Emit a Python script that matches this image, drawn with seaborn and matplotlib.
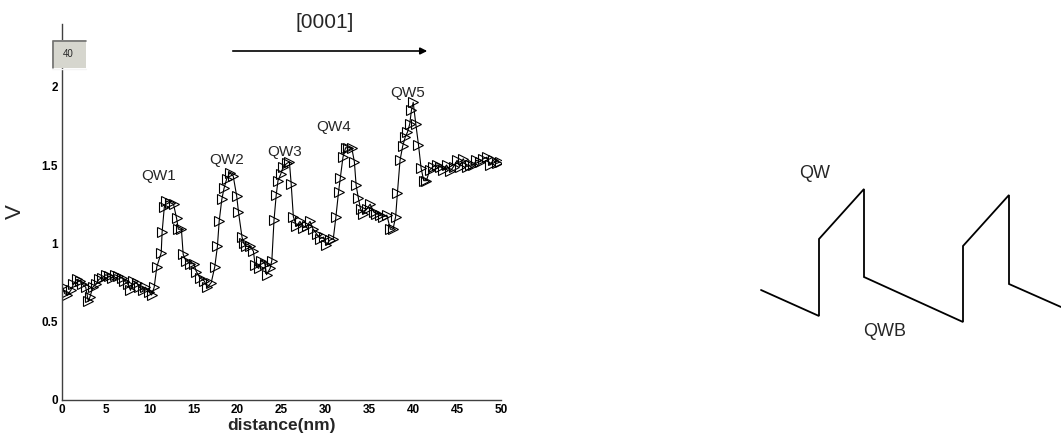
import matplotlib
matplotlib.use('Agg')
import matplotlib.pyplot as plt
import seaborn as sns
import pandas as pd
from matplotlib.patches import Rectangle

# potential profile along [0001]
distance = [0.0, 0.3, 0.6, 1.0, 1.3, 1.7, 2.0, 2.3, 2.7, 3.0, 3.2, 3.5, 3.9, 4.2, 4.6,
            5.0, 5.3, 5.7, 6.0, 6.4, 6.8, 7.1, 7.5, 7.8, 8.1, 8.5, 8.8, 9.2, 9.5, 9.9,
            10.2, 10.5, 10.8, 11.3, 11.4, 11.65, 11.9, 12.3, 12.7, 13.05, 13.25, 13.6, 13.8, 14.1, 14.6,
            15.0, 15.3, 15.7, 16.2, 16.55, 17.0, 17.4, 17.7, 17.9, 18.2, 18.45, 18.75, 19.1, 19.5, 19.9,
            20.1, 20.5, 20.7, 21.0, 21.4, 21.8, 22.0, 22.4, 22.7, 23.1, 23.3, 23.7, 23.9, 24.15, 24.4,
            24.6, 24.9, 25.2, 25.6, 25.9, 26.1, 26.35, 26.7, 27.1, 27.5, 27.9, 28.25, 28.6, 29.0, 29.4,
            29.8, 30.1, 30.5, 30.9, 31.2, 31.5, 31.7, 32.0, 32.3, 32.6, 33.0, 33.3, 33.5, 33.75, 34.0,
            34.3, 34.7, 35.1, 35.5, 35.8, 36.2, 36.6, 37.0, 37.4, 37.7, 38.0, 38.2, 38.5, 38.8, 39.1,
            39.35, 39.6, 39.8, 40.0, 40.3, 40.6, 40.9, 41.2, 41.5, 41.9, 42.3, 42.7, 43.1, 43.4, 43.8,
            44.2, 44.6, 45.0, 45.3, 45.7, 46.1, 46.5, 46.85, 47.2, 47.6, 48.0, 48.4, 48.75, 49.1, 49.5, 49.9]
potential = [0.73, 0.68, 0.67, 0.70, 0.74, 0.77, 0.76, 0.74, 0.72, 0.63, 0.66, 0.72, 0.74, 0.77, 0.78,
             0.80, 0.79, 0.78, 0.80, 0.79, 0.78, 0.76, 0.74, 0.70, 0.76, 0.75, 0.72, 0.70, 0.72, 0.69,
             0.67, 0.72, 0.85, 0.94, 1.07, 1.23, 1.27, 1.26, 1.25, 1.16, 1.09, 1.09, 0.93, 0.89, 0.87,
             0.87, 0.82, 0.78, 0.76, 0.72, 0.75, 0.85, 0.98, 1.14, 1.28, 1.35, 1.41, 1.45, 1.43, 1.30,
             1.20, 1.04, 1.00, 0.98, 0.98, 0.95, 0.86, 0.84, 0.89, 0.87, 0.80, 0.84, 0.89, 1.15, 1.31,
             1.40, 1.44, 1.49, 1.51, 1.52, 1.38, 1.17, 1.11, 1.14, 1.10, 1.11, 1.14, 1.09, 1.06, 1.03,
             1.04, 0.99, 1.02, 1.03, 1.17, 1.33, 1.42, 1.55, 1.61, 1.61, 1.61, 1.52, 1.37, 1.29, 1.22,
             1.19, 1.22, 1.25, 1.20, 1.19, 1.18, 1.17, 1.18, 1.09, 1.09, 1.17, 1.32, 1.53, 1.62, 1.68,
             1.71, 1.76, 1.85, 1.90, 1.76, 1.63, 1.48, 1.40, 1.40, 1.47, 1.49, 1.50, 1.49, 1.47, 1.50,
             1.46, 1.49, 1.53, 1.49, 1.54, 1.49, 1.50, 1.50, 1.53, 1.52, 1.54, 1.55, 1.50, 1.53, 1.51, 1.52]

well_names = ["QW1", "QW2", "QW3", "QW4", "QW5"]
well_label_x = [11.0, 18.7, 25.4, 30.9, 39.4]
well_label_y = [1.43, 1.53, 1.58, 1.74, 1.96]

x_ticks = [0, 5, 10, 15, 20, 25, 30, 35, 40, 45, 50]
y_ticks = [0, 0.5, 1, 1.5, 2]
y_tick_labels = ["0", "0.5", "1", "1.5", "2"]

# schematic band profile on the right (figure pixel coords)
schem_x = [761, 819, 819, 864, 864, 963, 963, 1009, 1009, 1061]
schem_y = [290, 316, 239, 189, 277, 322, 246, 195, 284, 307]

sns.set_style("white")
plt.rcParams['font.family'] = ['Liberation Sans', 'DejaVu Sans']

fig = plt.figure(figsize=(10.61, 4.38), dpi=100)
ax = fig.add_axes([62 / 1061, 38 / 438, 439 / 1061, 376 / 438])

df = pd.DataFrame({"distance": distance, "V": potential})
sns.lineplot(data=df, x="distance", y="V", estimator=None, sort=False, ax=ax,
             color="black", lw=0.8, marker=">", ms=7, markerfacecolor="none",
             markeredgecolor="black", markeredgewidth=0.8)

ax.set_xlim(0, 50)
ax.set_ylim(0, 2.4)
ax.set_xticks(x_ticks)
ax.set_yticks(y_ticks)
ax.set_yticklabels(y_tick_labels)
ax.tick_params(direction="in", length=3, width=0.8, labelsize=8.5, colors="black", pad=3)
for lab in ax.get_xticklabels() + ax.get_yticklabels():
    lab.set_fontweight("bold")
sns.despine(ax=ax)
for s in ["left", "bottom"]:
    ax.spines[s].set_color("#404040")
    ax.spines[s].set_linewidth(1.0)
ax.set_xlabel("distance(nm)", fontsize=12.5, fontweight="bold")
ax.xaxis.set_label_coords(0.5, -0.048)
ax.set_ylabel("V", fontsize=16)
ax.yaxis.set_label_coords(-0.082, 0.5)

for name, lx, ly in zip(well_names, well_label_x, well_label_y):
    ax.text(lx, ly, name, fontsize=11, ha="center", va="center")

# overlay in pixel coordinates
ov = fig.add_axes([0, 0, 1, 1], facecolor="none")
ov.set_xlim(0, 1061)
ov.set_ylim(438, 0)
ov.axis("off")

ov.add_patch(Rectangle((52, 40), 34, 28, facecolor="#d6d6ce", edgecolor="none"))
ov.plot([52.5, 52.5, 86], [68, 40.5, 40.5], color="#707070", lw=1.2)
ov.plot([52, 86], [68.5, 68.5], color="#f4f4f4", lw=1)
ov.text(68, 54, "40", fontsize=7, ha="center", va="center")

ov.annotate("", xy=(430, 51), xytext=(230, 51),
            arrowprops=dict(arrowstyle="-|>", color="black", lw=1.2, mutation_scale=10))
ov.text(325, 22, "[0001]", fontsize=15, ha="center", va="center")

ov.plot(schem_x, schem_y, color="black", lw=1.3, solid_joinstyle="miter")
ov.text(815, 173, "QW", fontsize=13, ha="center", va="center")
ov.text(885, 331, "QWB", fontsize=13, ha="center", va="center")

fig.savefig("out.png", dpi=100)
